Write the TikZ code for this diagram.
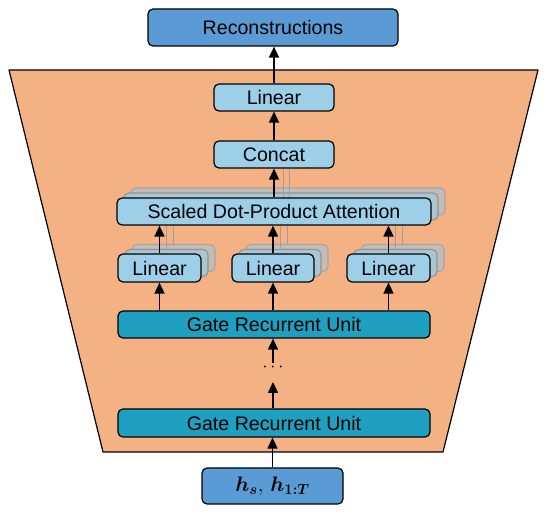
\RequirePackage{fix-cm}
\documentclass[tikz,border=0pt]{standalone}
\usepackage{bm}
\usepackage{fontspec}
\setmainfont{Liberation Sans}
\usetikzlibrary{calc,arrows.meta}
\definecolor{trap}{HTML}{F4B183}
\definecolor{darkblue}{HTML}{5B9BD5}
\definecolor{lightblue}{HTML}{9DCFE8}
\definecolor{grucol}{HTML}{1FA0C0}
\definecolor{copyA}{HTML}{A9C6D2}
\definecolor{copyB}{HTML}{C4BDB7}
\tikzset{
  box/.style={draw=black, rounded corners=5pt, line width=1.2pt, inner sep=0pt,
    font=\fontsize{19.6}{22}\selectfont},
  bluebox/.style={box, fill=darkblue},
  lbox/.style={box, fill=lightblue, minimum height=27pt},
  grubox/.style={box, fill=grucol, minimum height=27pt, minimum width=312pt},
  copymid/.style={draw=gray!85, rounded corners=5pt, line width=1.1pt, fill=copyA, inner sep=0pt, minimum height=27pt},
  copyback/.style={draw=gray!70, rounded corners=5pt, line width=1.1pt, fill=copyB, inner sep=0pt, minimum height=27pt},
  arr/.style={line width=1.6pt, -{Triangle[length=11pt,width=10pt]}},
  gline/.style={line width=1pt, draw=gray!75},
}
\begin{document}
\begin{tikzpicture}[x=1pt,y=-1pt]
\useasboundingbox (0,0) rectangle (550,518);
% trapezoid
\draw[fill=trap, line width=1.2pt, line join=round] (9,70) -- (538,70) -- (443,452) -- (103,452) -- cycle;

% back copies
\foreach \n/\x/\w in {A/159.5/83, B/273/82, C/388.5/83}{
  \node[copyback, minimum width=\w pt] (lin\n b) at (\x+14,258) {};
  \node[copymid, minimum width=\w pt] (lin\n m) at (\x+7,263) {};
}
\node[copyback, minimum width=314pt] (sdpab) at (288,201.5) {};
\node[copymid, minimum width=314pt] (sdpam) at (281,206.5) {};

% gray connector lines of the copies
\foreach \n in {A,B,C}{
  \draw[gline] (lin\n b.north) -- (sdpab.south -| lin\n b.north);
  \draw[gline] (lin\n m.north) -- (sdpam.south -| lin\n m.north);
}

% main nodes
\node[bluebox, minimum width=250pt, minimum height=37pt] (rec) at (273,27.5) {Reconstructions};
\node[lbox, minimum width=120pt] (lintop) at (274,97.5) {Linear};
\node[lbox, minimum width=120pt] (concat) at (274,154.5) {Concat};
\draw[gline] ($(concat.south)+(9,0)$) -- ($(concat.south)+(9,33)$);
\draw[gline] ($(concat.south)+(15,0)$) -- ($(concat.south)+(15,28)$);
\node[lbox, minimum width=314pt] (sdpa) at (274,211.5) {Scaled Dot-Product Attention};
\node[lbox, minimum width=83pt, minimum height=28pt] (linA) at (159.5,268) {Linear};
\node[lbox, minimum width=82pt, minimum height=28pt] (linB) at (273,268) {Linear};
\node[lbox, minimum width=83pt, minimum height=28pt] (linC) at (388.5,268) {Linear};
\node[grubox] (gru2) at (274,324.5) {Gate Recurrent Unit};
\node[grubox, minimum height=28pt] (gru1) at (274,423) {Gate Recurrent Unit};
\node[bluebox, minimum width=141pt, minimum height=36pt, font=\fontsize{21}{24}\selectfont] (inp) at (272.5,486) {$\bm{h_s},\,\bm{h_{1:T}}$};
\node[inner sep=0pt, font=\fontsize{18}{20}\selectfont] (dots) at (273,368) {$\cdots$};

% arrows
\draw[arr] (inp.north) -- (inp.north |- gru1.south);
\coordinate (d1) at (273,382);
\coordinate (d2) at (273,363);
\draw[arr] (gru1.north -| d1) -- (d1);
\draw[arr] (d2) -- (gru2.south -| d2);
\foreach \n in {A,B,C}{
  \draw[arr] (gru2.north -| lin\n) -- (lin\n.south);
  \draw[arr] (lin\n.north) -- (sdpa.south -| lin\n);
}
\draw[arr] (sdpa.north -| concat) -- (concat.south);
\draw[arr] (concat.north) -- (lintop.south);
\draw[arr] (lintop.north) -- (rec.south -| lintop);
\end{tikzpicture}
\end{document}
